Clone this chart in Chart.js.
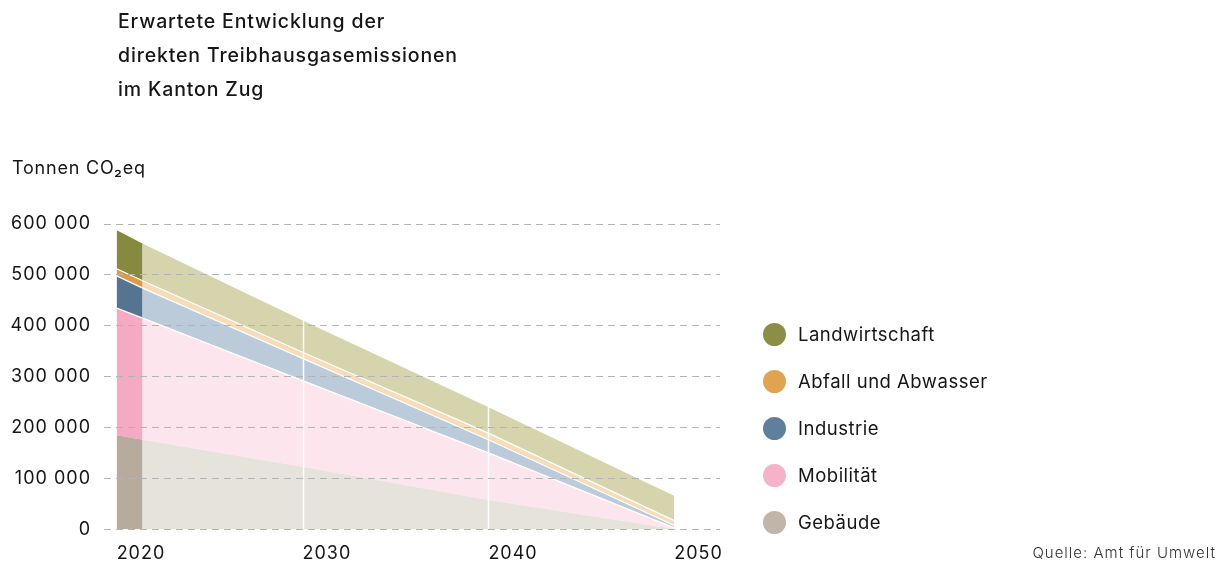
<!DOCTYPE html>
<html lang="de">
<head>
<meta charset="utf-8">
<script src="https://cdn.jsdelivr.net/npm/chart.js@4/dist/chart.umd.min.js"></script>
<style>
  html, body { margin: 0; padding: 0; background: #fff; }
  body { width: 1218px; height: 565px; position: relative; overflow: hidden; font-family: Inter, "Noto Sans", sans-serif; color: #161616; }
  #wrap { position: absolute; left: 0; top: 0; width: 1218px; height: 565px; }
  #title { position: absolute; left: 118px; top: 4px; font-size: 19.5px; font-weight: 500; line-height: 34px; letter-spacing: 0.85px; white-space: nowrap; }
  #unit { position: absolute; left: 12px; top: 156px; font-size: 18px; line-height: 24px; letter-spacing: 0.8px; }
  #source { position: absolute; right: 2px; top: 542px; font-size: 15px; line-height: 22px; color: #333; font-weight: 300; letter-spacing: 1px; }
  #legend { position: absolute; left: 763px; top: 0; }
  .item { position: absolute; left: 0; height: 24px; display: flex; align-items: center; white-space: nowrap; font-size: 18.5px; letter-spacing: 0.5px; }
  .dot { width: 23px; height: 23px; border-radius: 50%; margin-right: 12px; flex: none; }
</style>
</head>
<body>
<div id="wrap"><canvas id="c" width="1218" height="565"></canvas></div>
<div id="title">Erwartete Entwicklung der<br>direkten Treibhausgasemissionen<br>im Kanton Zug</div>
<div id="unit">Tonnen CO₂eq</div>
<div id="legend"></div>
<div id="source">Quelle: Amt für Umwelt</div>
<script>
// ---- data ----
const categories = ["Gebäude", "Mobilität", "Industrie", "Abfall und Abwasser", "Landwirtschaft"];
// measured block (2020) years and values (t CO2eq per sector)
const measuredYears = [2020, 2021.4];
const measuredGebaeude = [185000, 176000];
const measuredMobilitaet = [249500, 239000];
const measuredIndustrie = [63500, 59000];
const measuredAbfall = [14000, 14500];
const measuredLandwirtschaft = [77500, 74500];
// expected path
const pathYears = [2021.4, 2030, 2040, 2050];
const pathGebaeude = [176000, 123000, 57500, 500];
const pathMobilitaet = [239000, 169000, 92500, 2500];
const pathIndustrie = [59000, 44000, 26000, 4500];
const pathAbfall = [14500, 12000, 13000, 9500];
const pathLandwirtschaft = [74500, 64000, 52500, 50000];
// axis
const xTickYears = [2020, 2030, 2040, 2050];
const yTickValues = [0, 100000, 200000, 300000, 400000, 500000, 600000];
const markerYears = [2030, 2040];

// ---- styles ----
const darkColors = ["#b6ab9c", "#f3aac2", "#557492", "#dc9b4b", "#868a3f"];
const lightColors = ["#e6e2dc", "#fce5ec", "#bccbd9", "#f6dcb8", "#d6d4ac"];
const legendColors = ["#c0b5a7", "#f5b2c8", "#5f7f9c", "#dfa352", "#8a8e47"];

const measuredSeries = [measuredGebaeude, measuredMobilitaet, measuredIndustrie, measuredAbfall, measuredLandwirtschaft];
const pathSeries = [pathGebaeude, pathMobilitaet, pathIndustrie, pathAbfall, pathLandwirtschaft];

function toPoints(xs, ys) { return xs.map((x, i) => ({ x: x, y: ys[i] })); }

const datasets = [];
measuredSeries.forEach((s, i) => {
  datasets.push({
    label: categories[i] + " (2020)", stack: "measured",
    data: toPoints(measuredYears, s),
    backgroundColor: darkColors[i], borderColor: "#ffffff", borderWidth: i === 0 ? 0 : 1.3,
    fill: i === 0 ? "origin" : "-1", pointRadius: 0, tension: 0
  });
});
pathSeries.forEach((s, i) => {
  datasets.push({
    label: categories[i], stack: "path",
    data: toPoints(pathYears, s),
    backgroundColor: lightColors[i], borderColor: "#ffffff", borderWidth: i === 0 ? 0 : 1.3,
    fill: i === 0 ? "origin" : "-1", pointRadius: 0, tension: 0
  });
});

const spacingPlugin = {
  id: "spacing",
  beforeUpdate(chart) { chart.ctx.letterSpacing = "1px"; },
  beforeDraw(chart) { chart.ctx.letterSpacing = "1px"; }
};

const markerPlugin = {
  id: "markers",
  afterDatasetsDraw(chart) {
    const { ctx, scales: { x, y } } = chart;
    ctx.save();
    ctx.strokeStyle = "#ffffff";
    ctx.lineWidth = 1.5;
    markerYears.forEach(yr => {
      const idx = pathYears.indexOf(yr);
      const total = pathSeries.reduce((a, s) => a + s[idx], 0);
      const px = Math.round(x.getPixelForValue(yr)) + 0.5;
      ctx.beginPath();
      ctx.moveTo(px, y.getPixelForValue(0));
      ctx.lineTo(px, y.getPixelForValue(total));
      ctx.stroke();
    });
    ctx.restore();
  }
};

const fmt = v => String(v).replace(/\B(?=(\d{3})+(?!\d))/g, " ");

new Chart(document.getElementById("c"), {
  type: "line",
  data: { datasets },
  plugins: [spacingPlugin, markerPlugin],
  options: {
    responsive: false,
    animation: false,
    events: [],
    layout: { padding: { left: 0, right: 498, top: 224, bottom: 0 } },
    plugins: { legend: { display: false }, tooltip: { enabled: false } },
    scales: {
      x: {
        type: "linear", min: 2019.32, max: 2052.46,
        afterFit(s) { s.height = 35.7; },
        afterBuildTicks(s) { s.ticks = xTickYears.map(v => ({ value: v })); },
        grid: { display: false, drawTicks: false },
        border: { display: false },
        ticks: { align: "start", padding: 13, autoSkip: false, maxRotation: 0, color: "#161616",
                 font: { family: "Inter", size: 18 }, callback: v => String(v) }
      },
      y: {
        stacked: true, min: 0, max: 600000,
        afterFit(s) { s.width = 104; },
        afterBuildTicks(s) { s.ticks = yTickValues.map(v => ({ value: v })); },
        grid: { color: "#b4b4b4", lineWidth: 1, drawTicks: false, z: 1 },
        border: { display: false, dash: [7, 5] },
        ticks: { padding: 13, color: "#161616", font: { family: "Inter", size: 18 }, callback: v => fmt(v) }
      }
    }
  }
});

// legend (top to bottom: reversed order)
const legendCenters = [334, 381, 428, 475, 522];
const legend = document.getElementById("legend");
categories.slice().reverse().forEach((name, k) => {
  const i = categories.length - 1 - k;
  const d = document.createElement("div");
  d.className = "item";
  d.style.top = (legendCenters[k] - 12) + "px";
  d.innerHTML = '<span class="dot" style="background:' + legendColors[i] + '"></span><span>' + name + '</span>';
  legend.appendChild(d);
});
</script>
</body>
</html>
